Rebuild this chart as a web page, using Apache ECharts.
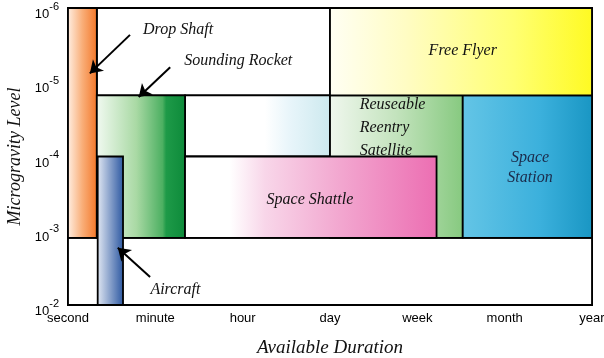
<!DOCTYPE html>
<html><head><meta charset="utf-8">
<script src="https://cdn.jsdelivr.net/npm/echarts@6/dist/echarts.min.js"></script>
<style>html,body{margin:0;padding:0;background:#fff}#c{width:604px;height:358px}</style>
</head><body><div id="c"></div>
<script>
// Duration categories on the x axis (one unit each)
const durations = ['second','minute','hour','day','week','month','year'];
// Y tick values (microgravity level, log scale)
const levelTicks = [1e-6, 1e-5, 1e-4, 1e-3, 1e-2];

// Regions (x in duration units, y in g-level), listed in drawing order
const boxNames   = ['Lower band','Upper blank','Mid blank','Drop Shaft','Sounding Rocket','Reentry Satellite','Space Shuttle','Space Station','Free Flyer','Aircraft'];
const boxX0      = [0,     0.33,  1.34,   0,      0.33,   3,      1.34,   4.52,   3,      0.34];
const boxX1      = [6,     3,     3,      0.33,   1.34,   4.52,   4.22,   6,      6,      0.63];
const boxYTop    = [1.25e-3, 1e-6, 1.5e-5, 1e-6,  1.5e-5, 1.5e-5, 1e-4,   1.5e-5, 1e-6,   1e-4];
const boxYBottom = [1e-2, 1.5e-5, 1e-4,   1.25e-3, 1.25e-3, 1.25e-3, 1.25e-3, 1.25e-3, 1.5e-5, 1e-2];

// Text annotations
const noteText = ['Drop Shaft','Sounding Rocket','Free Flyer','Reuseable\nReentry\nSatellite','Space Shattle','Space\nStation','Aircraft'];
const noteX    = [1.26, 1.95, 4.52, 3.34, 2.77, 5.29, 1.23];
const noteY    = [1.98e-6, 5.2e-6, 3.8e-6, 4.05e-5, 3.8e-4, 1.41e-4, 6.3e-3];

// Arrows [fromX, fromY, toX, toY]
const arrowFromX = [0.71, 1.17, 0.94];
const arrowFromY = [2.3e-6, 6.3e-6, 4.2e-3];
const arrowToX   = [0.25, 0.81, 0.57];
const arrowToY   = [7.6e-6, 1.58e-5, 1.7e-3];

const fills = {
  'Lower band': [[0,'#ffffff'],[1,'#ffffff']],
  'Upper blank': [[0,'#ffffff'],[1,'#ffffff']],
  'Mid blank': [[0,'#ffffff'],[0.55,'#ffffff'],[0.72,'#e8f5fa'],[1,'#cce9ee']],
  'Drop Shaft': [[0,'#fff1e6'],[0.5,'#f9ae78'],[1,'#f37526']],
  'Sounding Rocket': [[0,'#f2faf2'],[0.45,'#a9d9a4'],[0.74,'#4db062'],[0.78,'#1e9a48'],[1,'#0d8a3a']],
  'Space Shuttle': [[0,'#ffffff'],[0.18,'#ffffff'],[0.32,'#f8d6e9'],[0.62,'#f2a6cf'],[1,'#ec6eb2']],
  'Reentry Satellite': [[0,'#f0f7ee'],[0.5,'#c3e3bd'],[1,'#86c97f']],
  'Space Station': [[0,'#64c5e6'],[0.6,'#3bb0dc'],[1,'#1996c3']],
  'Free Flyer': [[0,'#fffff4'],[0.3,'#fffcc2'],[0.7,'#ffff72'],[1,'#fefa22']],
  'Aircraft': [[0,'#e4eaf4'],[1,'#2a56a0']]
};
const noteStyles = [
  {}, {}, {}, {align:'left', lineHeight:23}, {}, {lineHeight:20, color:'#1b2a4a'}, {}
];

const boxData = boxNames.map((n,i)=>({name:n, value:[boxX0[i], boxX1[i], boxYTop[i], boxYBottom[i]]}));
const noteData = noteText.map((t,i)=>({value:[noteX[i], noteY[i]], label:Object.assign({formatter:t}, noteStyles[i])}));
const arrowData = arrowFromX.map((x,i)=>[{coord:[x, arrowFromY[i]]},{coord:[arrowToX[i], arrowToY[i]]}]);

const serifItalic = {fontFamily:'Liberation Serif', fontStyle:'italic', color:'#111'};

const chart = echarts.init(document.getElementById('c'));
chart.setOption({
  animation:false,
  grid:{left:68, right:12, top:8, bottom:53, show:true, borderColor:'#000', borderWidth:2, containLabel:false, outerBoundsMode:'none'},
  xAxis:{type:'value', min:0, max:6, interval:1,
    name:'Available Duration', nameLocation:'middle', nameGap:33,
    nameTextStyle:Object.assign({fontSize:19}, serifItalic),
    axisLine:{lineStyle:{color:'#000', width:2}},
    axisTick:{inside:true, length:5, lineStyle:{color:'#000', width:1.5}},
    splitLine:{show:false},
    axisLabel:{formatter:v=>durations[v], fontFamily:'Liberation Sans', fontSize:13, color:'#000', margin:7}
  },
  yAxis:{type:'log', logBase:10, inverse:true, min:levelTicks[0], max:levelTicks[levelTicks.length-1],
    name:'Microgravity Level', nameLocation:'middle', nameGap:38, nameRotate:90,
    nameTextStyle:Object.assign({fontSize:18}, serifItalic),
    axisLine:{lineStyle:{color:'#000', width:2}},
    axisTick:{show:false}, splitLine:{show:false},
    axisLabel:{margin:9, padding:[6,0,0,0], formatter:v=>'{b|10}{s|'+Math.round(Math.log10(v))+'}',
      rich:{b:{fontFamily:'Liberation Sans', fontSize:13, color:'#000', verticalAlign:'bottom', lineHeight:20},
            s:{fontFamily:'Liberation Sans', fontSize:11, color:'#000', verticalAlign:'top', lineHeight:20}}}
  },
  series:[
    {type:'custom', data:boxData, encode:{x:[0,1], y:[2,3]}, clip:false,
     renderItem:(params, api)=>{
       const p0 = api.coord([api.value(0), api.value(2)]);
       const p1 = api.coord([api.value(1), api.value(3)]);
       const name = boxNames[params.dataIndex];
       return {type:'rect', shape:{x:p0[0], y:p0[1], width:p1[0]-p0[0], height:p1[1]-p0[1]},
         style:{fill:new echarts.graphic.LinearGradient(0,0,1,0, fills[name].map(s=>({offset:s[0], color:s[1]}))),
                stroke:'#000', lineWidth:1.8}};
     }},
    {type:'scatter', data:noteData, symbolSize:0, silent:true, itemStyle:{color:'#000', opacity:1},
     label:Object.assign({show:true, position:'inside', fontSize:16, textBorderWidth:0, opacity:1}, serifItalic),
     markLine:{silent:true, symbol:['none','arrow'], symbolSize:12, label:{show:false},
       lineStyle:{color:'#000', width:2, type:'solid', opacity:1}, data:arrowData}}
  ]
});
</script></body></html>
